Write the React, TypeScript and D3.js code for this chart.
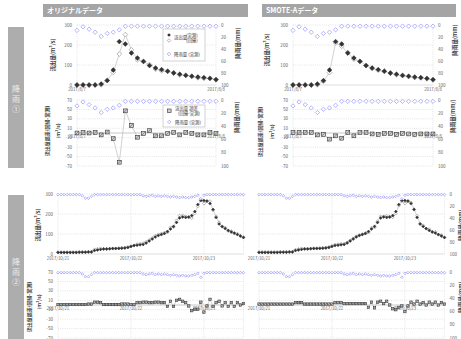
import React from 'react'
import * as d3 from 'd3'

const FONT = '"Noto Sans CJK JP", "Noto Sans", sans-serif'

// 降雨① : 2017/8/7 hourly
const obs1 = [0, 0, 0, 0, 5, 22, 75, 217, 205, 160, 135, 118, 97, 85, 77, 69, 60, 54, 48, 44, 40, 37, 33, 27]
const regOrig1 = [0, 1, 0, 1, 1, 24, 63, 155, 252, 176, 126, 117, 102, 79, 71, 68, 61, 50, 49, 43, 36, 33, 34, 26]
const regSmote1 = [1, 1, 1, 1, 1, 19, 62, 211, 194, 161, 129, 119, 98, 83, 74, 68, 59, 51, 47, 42, 37, 35, 31, 25]
const errOrig1 = [0, 1, 0, 1, -4, 2, -12, -62, 47, 16, -9, -1, 5, -6, -6, -1, 1, -4, 1, -1, -4, -4, 1, -1]
const errSmote1 = [1, 1, 1, 1, -4, -3, -13, -6, -11, 1, -6, 1, 1, -2, -3, -1, -1, -3, -1, -2, -3, -2, -2, -2]
const rain1 = [9, 3, 7, 12, 19, 14, 12, 8, 2, 2, 2, 2, 2, 2, 2, 2, 2, 2, 2, 2, 2, 2, 2, 2]
const dates1: [number, string][] = [[0, '2017/8/7'], [23, '2017/8/8']]

// 降雨② : 2017/10/21 - 10/23 hourly
const obs2 = [8, 8, 8, 8, 8, 8, 8, 9, 9, 9, 10, 10, 17, 20, 23, 25, 25, 26, 27, 27, 28, 29, 30, 33, 38, 42, 44, 46, 48,
  55, 65, 75, 85, 92, 97, 102, 112, 125, 138, 158, 180, 185, 183, 185, 192, 212, 247, 267, 267, 265, 252, 222, 183,
  150, 138, 127, 118, 110, 105, 97, 90, 82]
const regOrig2 = [9, 9, 9, 9, 9, 9, 9, 10, 10, 10, 12, 12, 23, 26, 28, 26, 26, 27, 28, 28, 29, 31, 32, 35, 39, 43, 49, 51, 54,
  61, 70, 80, 91, 98, 102, 107, 109, 133, 135, 168, 192, 193, 188, 183, 180, 203, 238, 273, 252, 263, 264, 219, 188,
  158, 136, 132, 115, 115, 102, 102, 90, 85]
const regSmote2 = [10, 10, 10, 10, 10, 10, 10, 11, 11, 11, 12, 12, 22, 25, 28, 27, 27, 28, 29, 29, 30, 31, 32, 35, 40, 47, 49, 51, 51,
  58, 68, 78, 88, 95, 100, 105, 107, 131, 132, 164, 188, 188, 191, 185, 184, 202, 242, 265, 253, 263, 258, 224, 191,
  152, 143, 127, 124, 112, 111, 97, 95, 84]
const errOrig2 = [1, 1, 1, 1, 1, 1, 1, 1, 1, 1, 2, 2, 6, 6, 5, 1, 1, 1, 1, 1, 1, 2, 2, 2, 1, 1, 5, 5, 6, 6, 5, 5, 6, 6, 5, 5,
  -3, 8, -3, 10, 12, 8, 5, -2, -12, -9, -9, 6, -15, -2, 12, -3, 5, 8, -2, 5, -3, 5, -3, 5, 0, 3]
const errSmote2 = [2, 2, 2, 2, 2, 2, 2, 2, 2, 2, 2, 2, 5, 5, 5, 2, 2, 2, 2, 2, 2, 2, 2, 2, 2, 5, 5, 5, 3, 3, 3, 3, 3, 3, 3, 3,
  -5, 6, -6, 6, 8, 3, 8, 0, -8, -10, -5, -2, -14, -2, 6, 2, 8, 2, 5, 0, 6, 2, 6, 0, 5, 2]
const rain2 = [1, 1, 1, 1, 1, 1, 1, 1, 3, 7, 7, 4, 1, 1, 1, 1, 1, 1, 1, 1, 1, 1, 1, 1, 1, 1, 1, 1,
  3, 4, 3, 2, 4, 3, 4, 3, 4, 5, 4, 5, 6, 5, 6, 6, 5, 4, 2, 8, 2, 1, 1, 1, 1, 1, 1, 1, 1, 1, 1, 1, 1, 1]
const dates2: [number, string][] = [[0, '2017/10/21'], [24, '2017/10/22'], [48, '2017/10/23']]

const flowTicks = [0, 100, 200, 300]
const errTicks = [70, 50, 30, 10, -10, -30, -50, -70]
const rainTicks = [0, 20, 40, 60, 80, 100]

const RAIN = '#8383ff'
const TICK = '#666'

const diamond = (cx: number, cy: number, r: number) =>
  `M${cx},${cy - r}L${cx + r},${cy}L${cx},${cy + r}L${cx - r},${cy}Z`

type Box = { left: number; right: number; top: number; bottom: number }

function Frame({ left, right, top, bottom, x, ticksY, vIdx }: Box & { x: any; ticksY: number[]; vIdx: number[] }) {
  return (
    <g stroke="#c8c8c8" strokeWidth={0.5} strokeDasharray="1,1.2">
      {ticksY.map((t) => <line key={t} x1={left} x2={right} y1={t} y2={t} />)}
      {vIdx.map((i) => <line key={'v' + i} x1={x(i)} x2={x(i)} y1={top} y2={bottom} />)}
      <line x1={right} x2={right} y1={top} y2={bottom} />
    </g>
  )
}

function FlowPanel({ left, right, top, bottom, obs, reg, rain, dates, vIdx, showLeft, showRight, r }: any) {
  const x = d3.scaleLinear().domain([0, obs.length - 1]).range([left, right])
  const y = d3.scaleLinear().domain([0, 300]).range([bottom, top])
  const yr = d3.scaleLinear().domain([0, 100]).range([top, bottom])
  const line = d3.line<number>().x((_, i) => x(i)).y((d) => y(d))
  return (
    <g>
      <Frame left={left} right={right} top={top} bottom={bottom} x={x} vIdx={vIdx}
        ticksY={flowTicks.filter((t) => t > 0).map((t) => y(t))} />
      <line x1={left} x2={right} y1={y(0)} y2={y(0)} stroke="#d0d0d0" strokeWidth={0.7} />
      <path d={line(reg) || ''} fill="none" stroke="#c6c6c6" strokeWidth={0.8} />
      {reg.map((d: number, i: number) => (
        <path key={'r' + i} d={diamond(x(i), y(d), r)} fill="#fff" stroke="#8a8a8a" strokeWidth={0.6} />
      ))}
      {obs.map((d: number, i: number) => (
        <path key={'o' + i} d={diamond(x(i), y(d), r)} fill="#333" stroke="#222" strokeWidth={0.4} />
      ))}
      {rain.map((d: number, i: number) => (
        <path key={'p' + i} d={diamond(x(i), yr(d), r * 0.9)} fill="#fff" stroke={RAIN} strokeWidth={0.6} />
      ))}
      <g fontSize={4.6} fill={TICK}>
        {showLeft && flowTicks.map((t) => (
          <text key={'l' + t} x={left - 5} y={y(t)} dy="0.35em" textAnchor="end">{t}</text>
        ))}
        {showRight && rainTicks.map((t) => (
          <text key={'rt' + t} x={right + 5} y={yr(t)} dy="0.35em">{t}</text>
        ))}
        {dates.map(([i, s]: [number, string]) => (
          <text key={s} x={x(i)} y={bottom + 6} textAnchor="middle" fontSize={4.3}>{s}</text>
        ))}
      </g>
    </g>
  )
}

function ErrorPanel({ left, right, top, bottom, err, rain, dates, vIdx, showLeft, showRight, r }: any) {
  const x = d3.scaleLinear().domain([0, err.length - 1]).range([left, right])
  const y = d3.scaleLinear().domain([-70, 70]).range([bottom, top])
  const yr = d3.scaleLinear().domain([0, 100]).range([top, bottom])
  const line = d3.line<number>().x((_, i) => x(i)).y((d) => y(d))
  const s = r * 1.6
  return (
    <g>
      <Frame left={left} right={right} top={top} bottom={bottom} x={x} vIdx={vIdx}
        ticksY={errTicks.map((t) => y(t))} />
      <line x1={left} x2={right} y1={y(0)} y2={y(0)} stroke="#a6a6a6" strokeWidth={0.6} />
      <path d={line(err) || ''} fill="none" stroke="#bdbdbd" strokeWidth={0.7} />
      {err.map((d: number, i: number) => (
        <g key={'e' + i}>
          <rect x={x(i) - s / 2} y={y(d) - s / 2} width={s} height={s} fill="#cfcfcf" stroke="#333" strokeWidth={0.6} />
          <line x1={x(i) - s / 2} y1={y(d) + s / 2} x2={x(i) + s / 2} y2={y(d) - s / 2} stroke="#444" strokeWidth={0.5} />
        </g>
      ))}
      {rain.map((d: number, i: number) => (
        <path key={'p' + i} d={diamond(x(i), yr(d), r * 0.9)} fill="#fff" stroke={RAIN} strokeWidth={0.6} />
      ))}
      <g fontSize={4.6} fill={TICK}>
        {showLeft && errTicks.map((t) => (
          <text key={'l' + t} x={left - 5} y={y(t)} dy="0.35em" textAnchor="end">{t}</text>
        ))}
        {showRight && rainTicks.map((t) => (
          <text key={'rt' + t} x={right + 5} y={yr(t)} dy="0.35em">{t}</text>
        ))}
        {dates.map(([i, s]: [number, string]) => (
          <text key={s} x={x(i)} y={y(0) + 4.5} textAnchor="middle" fontSize={4.3}>{s}</text>
        ))}
      </g>
    </g>
  )
}

function VLabel({ x, y, text, size = 5.5 }: { x: number; y: number; text: string; size?: number }) {
  return (
    <text transform={`translate(${x},${y}) rotate(-90)`} textAnchor="middle" dy="0.35em"
      fontSize={size} fontWeight="bold" fill="#404040">{text}</text>
  )
}

function SideBar({ y, h, label }: { y: number; h: number; label: string[] }) {
  return (
    <g>
      <rect x={8} y={y} width={16} height={h} fill="#adadad" />
      {label.map((c, i) => (
        <text key={i} x={16} y={y + h / 2 - 8 + i * 10} textAnchor="middle" dy="0.35em" fontSize={8} fill="#eee">{c}</text>
      ))}
    </g>
  )
}

export default function App() {
  const TL = { left: 77, right: 216 }
  const TR = { left: 293, right: 433 }
  const BL = { left: 58, right: 58 + 61 * 3.04 }
  const BR = { left: 259, right: 259 + 61 * 3.04 }
  const f1 = { top: 25, bottom: 85 }
  const e1 = { top: 100, bottom: 166 }
  const f2 = { top: 194, bottom: 254 }
  const e2 = { top: 272, bottom: 338 }
  const v2 = dates2.map((d) => d[0])
  return (
    <svg width={461} height={339} style={{ position: 'absolute', left: 0, top: 0, background: '#fff' }}
      fontFamily={FONT}>
      <rect x={43} y={4} width={205} height={13} fill="#a5a5a5" />
      <text x={47} y={10.8} dy="0.35em" fontSize={7} fontWeight="bold" fill="#fff">オリジナルデータ</text>
      <rect x={262} y={4} width={194} height={13} fill="#a5a5a5" />
      <text x={266} y={10.8} dy="0.35em" fontSize={7} fontWeight="bold" fill="#fff">SMOTE-Aデータ</text>

      <SideBar y={27} h={141} label={['降', '雨', '①']} />
      <SideBar y={195} h={150} label={['降', '雨', '②']} />

      {/* 降雨① */}
      <FlowPanel {...TL} {...f1} obs={obs1} reg={regOrig1} rain={rain1} dates={dates1} vIdx={[0]} showLeft showRight r={2.4} />
      <ErrorPanel {...TL} {...e1} err={errOrig1} rain={rain1} dates={dates1} vIdx={[0]} showLeft showRight r={2.4} />
      <FlowPanel {...TR} {...f1} obs={obs1} reg={regSmote1} rain={rain1} dates={dates1} vIdx={[0]} showLeft showRight r={2.4} />
      <ErrorPanel {...TR} {...e1} err={errSmote1} rain={rain1} dates={dates1} vIdx={[0]} showLeft showRight r={2.4} />

      {/* 降雨② */}
      <FlowPanel {...BL} {...f2} obs={obs2} reg={regOrig2} rain={rain2} dates={dates2} vIdx={v2} showLeft r={1.5} />
      <ErrorPanel {...BL} {...e2} err={errOrig2} rain={rain2} dates={dates2} vIdx={v2} showLeft r={1.5} />
      <FlowPanel {...BR} {...f2} obs={obs2} reg={regSmote2} rain={rain2} dates={dates2} vIdx={v2} showRight r={1.5} />
      <ErrorPanel {...BR} {...e2} err={errSmote2} rain={rain2} dates={dates2} vIdx={v2} showRight r={1.5} />

      {/* axis titles */}
      <VLabel x={53} y={55} text="流出量(m³/s)" />
      <VLabel x={47} y={131} text="流出量誤差(回帰-実測)" size={5} />
      <VLabel x={58} y={131} text="(m³/s)" size={5} />
      <VLabel x={238} y={43} text="降雨量(mm)" />
      <VLabel x={237} y={117} text="降雨量(mm)" />
      <VLabel x={267} y={50} text="流出量(m³/s)" />
      <VLabel x={260} y={132} text="流出量誤差(回帰-実測)" size={5} />
      <VLabel x={272} y={132} text="(m³/s)" size={5} />
      <VLabel x={455} y={40} text="降雨量(mm)" />
      <VLabel x={453} y={116} text="降雨量(mm/)" />
      <VLabel x={38} y={225} text="流出量(m³/s)" />
      <VLabel x={29} y={307} text="流出量誤差(回帰-実測)" size={5} />
      <VLabel x={39} y={302} text="(m³/s)" size={5} />
      <VLabel x={461} y={225} text="降雨量(mm)" />
      <VLabel x={461} y={297} text="降雨量(mm)" />

      {/* legends */}
      <g fontSize={4.4} fill="#333">
        <rect x={163} y={29} width={42} height={32} fill="#fff" stroke="#a6a6a6" strokeWidth={0.5} />
        <path d={diamond(169, 35, 1.8)} fill="#333" />
        <path d={diamond(169, 40.5, 1.8)} fill="#fff" stroke="#8a8a8a" strokeWidth={0.6} />
        <text x={174} y={37.8} dy="0.35em">流出量</text>
        <text x={186} y={35} dy="0.35em">(実測)</text>
        <text x={186} y={40.5} dy="0.35em">(回帰)</text>
        <path d={diamond(169, 54, 1.8)} fill="#fff" stroke={RAIN} strokeWidth={0.6} />
        <text x={174} y={54} dy="0.35em">降雨量 (実測)</text>

        <rect x={163} y={105} width={42} height={22} fill="#fff" stroke="#a6a6a6" strokeWidth={0.5} />
        <rect x={167.5} y={109} width={3.6} height={3.6} fill="#cfcfcf" stroke="#333" strokeWidth={0.6} />
        <text x={175} y={108.5} dy="0.35em">流出量 誤差</text>
        <text x={178} y={113} dy="0.35em">(回帰-実測)</text>
        <path d={diamond(169.3, 122, 1.8)} fill="#fff" stroke={RAIN} strokeWidth={0.6} />
        <text x={175} y={122} dy="0.35em">降雨量 (実測)</text>
      </g>
    </svg>
  )
}
